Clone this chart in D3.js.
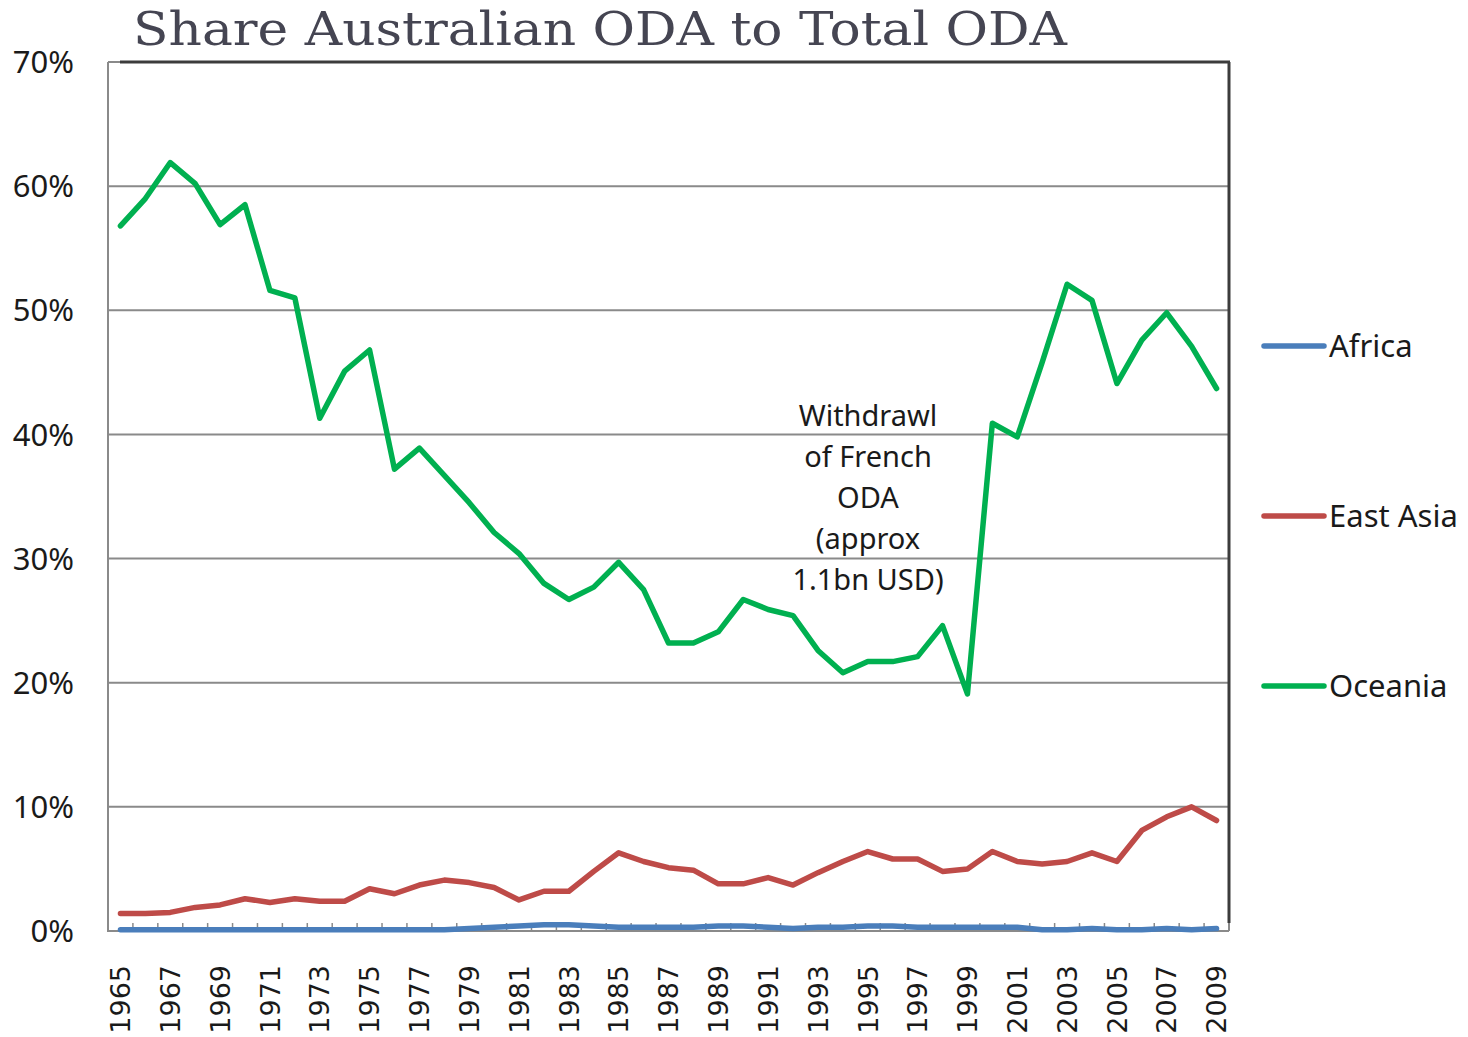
<!DOCTYPE html>
<html>
<head>
<meta charset="utf-8">
<script src="https://cdn.jsdelivr.net/npm/d3@7"></script>
<style>
  html, body { margin: 0; padding: 0; background: #fff; }
  svg { display: block; }
</style>
</head>
<body>
<svg id="chart" width="1468" height="1037"></svg>
<script>
const years = d3.range(1965, 2010).map(String);
const africa = [0.1,0.1,0.1,0.1,0.1,0.1,0.1,0.1,0.1,0.1,0.1,0.1,0.1,0.1,0.2,0.3,0.4,0.5,0.5,0.4,0.3,0.3,0.3,0.3,0.4,0.4,0.3,0.2,0.3,0.3,0.4,0.4,0.3,0.3,0.3,0.3,0.3,0.1,0.1,0.2,0.1,0.1,0.2,0.1,0.2];
const eastAsia = [1.4,1.4,1.5,1.9,2.1,2.6,2.3,2.6,2.4,2.4,3.4,3.0,3.7,4.1,3.9,3.5,2.5,3.2,3.2,4.8,6.3,5.6,5.1,4.9,3.8,3.8,4.3,3.7,4.7,5.6,6.4,5.8,5.8,4.8,5.0,6.4,5.6,5.4,5.6,6.3,5.6,8.1,9.2,10.0,8.9];
const oceania = [56.8,59.0,61.9,60.2,56.9,58.5,51.6,51.0,41.3,45.1,46.8,37.2,38.9,36.7,34.5,32.1,30.4,28.0,26.7,27.7,29.7,27.5,23.2,23.2,24.1,26.7,25.9,25.4,22.6,20.8,21.7,21.7,22.1,24.6,19.1,40.9,39.8,45.8,52.1,50.8,44.1,47.6,49.8,47.1,43.7];
const seriesNames = ["Africa", "East Asia", "Oceania"];
const seriesColors = ["#4A7EBB", "#BE4B48", "#00B050"];
const yTicks = [0, 10, 20, 30, 40, 50, 60, 70];
const titleText = "Share Australian ODA to Total ODA";
const noteLines = ["Withdrawl", "of French", "ODA", "(approx", "1.1bn USD)"];

const svg = d3.select("#chart");
const L = 108, R = 1229, T = 62, B = 931;

const x = d3.scaleBand().domain(years).range([L, R]).padding(0);
const y = d3.scaleLinear().domain([0, 70]).range([B, T]);

// Title
svg.append("text")
  .attr("x", 133).attr("y", 45)
  .attr("font-family", "'DejaVu Serif', 'Liberation Serif', serif")
  .attr("font-size", 46)
  .attr("fill", "#454552")
  .attr("textLength", 934)
  .attr("lengthAdjust", "spacingAndGlyphs")
  .text(titleText);

// gridlines
svg.append("g").selectAll("line").data(yTicks.filter(d => d > 0)).join("line")
  .attr("x1", L).attr("x2", R)
  .attr("y1", d => y(d)).attr("y2", d => y(d))
  .attr("stroke", "#8a8a8a").attr("stroke-width", 2);

// y axis labels
svg.append("g").selectAll("text").data(yTicks).join("text")
  .attr("x", 74).attr("y", d => y(d))
  .attr("dy", "0.36em")
  .attr("text-anchor", "end")
  .attr("font-family", "'Noto Sans', sans-serif")
  .attr("font-size", 31)
  .attr("fill", "#1a1a1a")
  .text(d => d + "%");

// axes lines
svg.append("line").attr("x1", L).attr("x2", L).attr("y1", T).attr("y2", B)
  .attr("stroke", "#8a8a8a").attr("stroke-width", 2);
svg.append("line").attr("x1", L - 1).attr("x2", R).attr("y1", B).attr("y2", B)
  .attr("stroke", "#8a8a8a").attr("stroke-width", 2);

// x minor ticks at band boundaries (inside)
svg.append("g").selectAll("line").data(years.slice(1)).join("line")
  .attr("x1", d => x(d)).attr("x2", d => x(d))
  .attr("y1", B).attr("y2", B - 8)
  .attr("stroke", "#8a8a8a").attr("stroke-width", 1.5);

// dark top and right frame
svg.append("line").attr("x1", 120).attr("x2", R + 1).attr("y1", T).attr("y2", T)
  .attr("stroke", "#3c3c3c").attr("stroke-width", 3);
svg.append("line").attr("x1", R).attr("x2", R).attr("y1", T).attr("y2", B - 8)
  .attr("stroke", "#3c3c3c").attr("stroke-width", 3);
svg.append("line").attr("x1", R).attr("x2", R).attr("y1", B - 8).attr("y2", B)
  .attr("stroke", "#8a8a8a").attr("stroke-width", 2);

// x labels
svg.append("g").selectAll("text").data(years.filter((d, i) => i % 2 === 0)).join("text")
  .attr("transform", d => `translate(${x(d) + x.bandwidth() / 2},965) rotate(-90)`)
  .attr("text-anchor", "end")
  .attr("dy", "0.36em")
  .attr("font-family", "'DejaVu Sans', Verdana, sans-serif")
  .attr("font-size", 27)
  .attr("fill", "#1a1a1a")
  .text(d => d);

// series lines
const data = [africa, eastAsia, oceania];
const line = d3.line()
  .x((d, i) => x(years[i]) + x.bandwidth() / 2)
  .y(d => y(d));
svg.append("g").selectAll("path").data(data).join("path")
  .attr("d", d => line(d))
  .attr("fill", "none")
  .attr("stroke", (d, i) => seriesColors[i])
  .attr("stroke-width", 5.5)
  .attr("stroke-linejoin", "round")
  .attr("stroke-linecap", "round");

// annotation
svg.append("g").selectAll("text").data(noteLines).join("text")
  .attr("x", 868).attr("y", (d, i) => 416 + i * 41)
  .attr("dy", "0.36em")
  .attr("text-anchor", "middle")
  .attr("font-family", "'Noto Sans', sans-serif")
  .attr("font-size", 29)
  .attr("fill", "#1a1a1a")
  .text(d => d);

// legend
const legY = [346, 516, 686];
const leg = svg.append("g").selectAll("g").data(seriesNames).join("g")
  .attr("transform", (d, i) => `translate(0,${legY[i]})`);
leg.append("line").attr("x1", 1264).attr("x2", 1324).attr("y1", 0).attr("y2", 0)
  .attr("stroke", (d, i) => seriesColors[i]).attr("stroke-width", 5.5)
  .attr("stroke-linecap", "round");
leg.append("text").attr("x", 1329).attr("y", 0).attr("dy", "0.36em")
  .attr("font-family", "'Noto Sans', sans-serif")
  .attr("font-size", 31)
  .attr("fill", "#1a1a1a")
  .text(d => d);
</script>
</body>
</html>
